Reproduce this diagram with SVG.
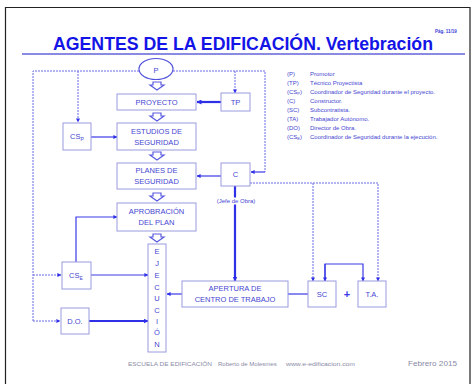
<svg xmlns="http://www.w3.org/2000/svg" width="474" height="384" viewBox="0 0 474 384">
<style>
.box{fill:#fff;stroke:#9a9ae0;stroke-width:1}
.bt{font-family:"Liberation Sans",Arial,sans-serif;font-size:7.5px;fill:#4646d2;text-anchor:middle}
.ln{fill:none;stroke:#3a3ae6;stroke-width:1.2}
.thick{fill:none;stroke:#2f2fe8;stroke-width:2.2}
.dash{fill:none;stroke:#6a6ae6;stroke-width:1;stroke-dasharray:2,1}
.leg{font-family:"Liberation Sans",Arial,sans-serif;font-size:6px;fill:#4646d2}
.hol{fill:#fff;stroke:#5a5ae0;stroke-width:1.2}
.foot{font-family:"Liberation Sans",Arial,sans-serif;fill:#8a8aa6}
</style>
<defs>
<marker id="ah" viewBox="0 0 10 10" refX="9" refY="5" markerWidth="4" markerHeight="4" markerUnits="userSpaceOnUse" orient="auto"><path d="M0,0 L10,5 L0,10 z" fill="#2f2fe8"/></marker>
<marker id="ahb" viewBox="0 0 10 10" refX="9" refY="5" markerWidth="5" markerHeight="5" markerUnits="userSpaceOnUse" orient="auto"><path d="M0,0 L10,5 L0,10 z" fill="#2f2fe8"/></marker>
</defs>
<rect x="0" y="0" width="474" height="384" fill="#fff"/>
<path d="M5.5,390 V7.5 H470 V390" fill="none" stroke="#222" stroke-width="1.2"/>
<text x="446" y="33" font-family="Liberation Sans,Arial,sans-serif" font-size="4.5" font-weight="bold" fill="#3a3ad8" text-anchor="middle">Pág. 11/19</text>
<text x="243" y="50" font-family="Liberation Sans,Arial,sans-serif" font-size="18" font-weight="bold" fill="#1414e6" text-anchor="middle" textLength="380" lengthAdjust="spacingAndGlyphs">AGENTES DE LA EDIFICACIÓN. Vertebración</text>
<line x1="22" y1="54" x2="465" y2="54" stroke="#8a8ae4" stroke-width="1.8"/>

<g id="connectors">
<path class="dash" d="M139,71 H33 V321"/>
<path class="dash" d="M173,71 H265 V172"/>
<path class="ln" d="M265,172 H251" marker-end="url(#ah)"/>
<path class="dash" d="M78,71 V122" marker-end="url(#ah)"/>
<path class="dash" d="M235,71 V93" marker-end="url(#ah)"/>
<path class="dash" d="M33,275 H61" marker-end="url(#ah)"/>
<path class="dash" d="M33,321 H60" marker-end="url(#ah)"/>
<path class="thick" d="M221,102 H197" marker-end="url(#ahb)"/>
<path class="ln" d="M91,137 H117" marker-end="url(#ah)"/>
<path class="ln" d="M221,176 H197" marker-end="url(#ah)"/>
<path class="ln" d="M76,262 V217 H117" marker-end="url(#ah)"/>
<path class="ln" d="M91,275 H148" marker-end="url(#ah)"/>
<path class="thick" d="M89,321 H148" marker-end="url(#ahb)"/>
<path class="thick" d="M235,186 V281" marker-end="url(#ahb)"/>
<path class="ln" d="M182,294 H167" marker-end="url(#ah)"/>
<path class="ln" d="M288,294 H308"/>
<path class="dash" d="M250,183 H378 V281" marker-end="url(#ah)"/>
<path class="dash" d="M313,183 V281" marker-end="url(#ah)"/>
<path class="ln" d="M325,281 V264 H363 V281" marker-end="url(#ah)"/>
<path class="ln" d="M325,264 V281" marker-end="url(#ah)"/>
<path class="hol" d="M153,82 h8 v3 h3 l-7,5 l-7,-5 h3 z"/>
<path class="hol" d="M153,113 h8 v3 h3 l-7,5 l-7,-5 h3 z"/>
<path class="hol" d="M153,152 h8 v3 h3 l-7,5 l-7,-5 h3 z"/>
<path class="hol" d="M153,193 h8 v3 h3 l-7,5 l-7,-5 h3 z"/>
<path class="hol" d="M153,234 h8 v3 h3 l-7,5 l-7,-5 h3 z"/>
</g>

<g id="P"><ellipse cx="156" cy="69" rx="17" ry="10.5" fill="#fff" stroke="#5050dc" stroke-width="1.2"/><text class="bt" x="156" y="72.5" font-size="9">P</text></g>
<g id="TP"><rect class="box" x="221" y="93" width="29" height="18"/><text class="bt" x="235.5" y="105">TP</text></g>
<g id="PROYECTO"><rect class="box" x="117" y="94" width="79" height="16"/><text class="bt" x="156.5" y="105">PROYECTO</text></g>
<g id="CSP"><rect class="box" x="63" y="123" width="28" height="27"/><text class="bt" x="77" y="139">CS<tspan font-size="5" dy="2">P</tspan></text></g>
<g id="ESTUDIOS"><rect class="box" x="117" y="123" width="79" height="27"/><text class="bt" x="156.5" y="134">ESTUDIOS DE</text><text class="bt" x="156.5" y="145">SEGURIDAD</text></g>
<g id="PLANES"><rect class="box" x="117" y="163" width="79" height="26"/><text class="bt" x="156.5" y="173">PLANES DE</text><text class="bt" x="156.5" y="184">SEGURIDAD</text></g>
<g id="C"><rect class="box" x="221" y="163" width="29" height="23"/><text class="bt" x="235.5" y="177">C</text><rect x="214" y="197.5" width="44" height="7" fill="#fff"/><text class="leg" x="236" y="203" font-size="4.8" text-anchor="middle">(Jefe de Obra)</text></g>
<g id="APROBACION"><rect class="box" x="117" y="203" width="79" height="28"/><text class="bt" x="156.5" y="214">APROBRACIÓN</text><text class="bt" x="156.5" y="225">DEL PLAN</text></g>
<g id="CSE"><rect class="box" x="62" y="262" width="29" height="27"/><text class="bt" x="76" y="278">CS<tspan font-size="5" dy="2">E</tspan></text></g>
<g id="DO"><rect class="box" x="61" y="308" width="28" height="26"/><text class="bt" x="75" y="324">D.O.</text></g>
<g id="EJECUCION"><rect class="box" x="148" y="244" width="18" height="108"/>
<text class="bt" x="157" y="254">E</text><text class="bt" x="157" y="266">J</text><text class="bt" x="157" y="278">E</text><text class="bt" x="157" y="290">C</text><text class="bt" x="157" y="301">U</text><text class="bt" x="157" y="313">C</text><text class="bt" x="157" y="324">I</text><text class="bt" x="157" y="335">Ó</text><text class="bt" x="157" y="347">N</text></g>
<g id="APERTURA"><rect class="box" x="182" y="281" width="106" height="26"/><text class="bt" x="235" y="291">APERTURA DE</text><text class="bt" x="235" y="302">CENTRO DE TRABAJO</text></g>
<g id="SC"><rect class="box" x="308" y="281" width="28" height="26"/><text class="bt" x="322" y="297">SC</text></g>
<text x="347" y="298" font-family="Liberation Sans,Arial,sans-serif" font-size="11" font-weight="bold" fill="#3a3ae6" text-anchor="middle">+</text>
<g id="TA"><rect class="box" x="358" y="281" width="28" height="26"/><text class="bt" x="372" y="297">T.A.</text></g>

<g id="legend">
<text class="leg" x="287" y="76">(P)</text><text class="leg" x="310" y="76">Promotor</text>
<text class="leg" x="287" y="85">(TP)</text><text class="leg" x="310" y="85">Técnico Proyectista</text>
<text class="leg" x="287" y="94">(CS<tspan font-size="4" dy="1">P</tspan><tspan dy="-1">)</tspan></text><text class="leg" x="310" y="94">Coordinador de Seguridad durante el proyecto.</text>
<text class="leg" x="287" y="103">(C)</text><text class="leg" x="310" y="103">Constructor.</text>
<text class="leg" x="287" y="112">(SC)</text><text class="leg" x="310" y="112">Subcontratista.</text>
<text class="leg" x="287" y="121">(TA)</text><text class="leg" x="310" y="121">Trabajador Autónomo.</text>
<text class="leg" x="287" y="130">(DO)</text><text class="leg" x="310" y="130">Director de Obra.</text>
<text class="leg" x="287" y="139">(CS<tspan font-size="4" dy="1">E</tspan><tspan dy="-1">)</tspan></text><text class="leg" x="310" y="139">Coordinador de Seguridad durante la ejecución.</text>
</g>

<text class="foot" x="128" y="366" font-size="6" textLength="84" lengthAdjust="spacingAndGlyphs">ESCUELA DE EDIFICACIÓN</text>
<text class="foot" x="218" y="366" font-size="6">Roberto de Molesmes</text>
<text class="foot" x="286" y="366" font-size="6" textLength="69" lengthAdjust="spacingAndGlyphs">www.e-edificacion.com</text>
<text class="foot" x="408" y="366" font-size="8" fill="#66667a" textLength="49" lengthAdjust="spacingAndGlyphs">Febrero 2015</text>
</svg>
